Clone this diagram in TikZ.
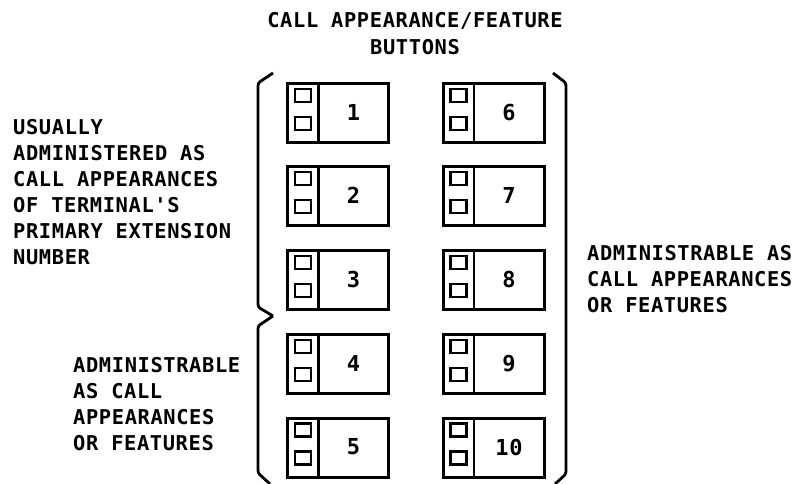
\documentclass[tikz,border=0pt]{standalone}
\usepackage{fontspec}
\newfontfamily\lblfont{DejaVu Sans Mono}[LetterSpace=3]
\begin{document}
\begin{tikzpicture}[x=1pt,y=-1pt,
  lbl/.style={font=\lblfont\bfseries\fontsize{20.4}{26}\selectfont, inner sep=0pt, align=left, anchor=north west},
  num/.style={font=\lblfont\bfseries\fontsize{22}{26}\selectfont, inner sep=0pt},
  btn/.style={draw, rectangle, line width=3pt, minimum width=101pt, minimum height=59pt, inner sep=0pt, outer sep=0pt, anchor=north west},
  divider/.style={line width=2.6pt},
  lamp/.style={line width=2.3pt},
  bracket/.style={line width=2.8pt, rounded corners=2.5pt}]
\useasboundingbox (0,0) rectangle (796,484);

% title
\node[lbl, align=center, anchor=north, font=\lblfont\bfseries\fontsize{20.4}{27}\selectfont] (title) at (415,12) {CALL APPEARANCE/FEATURE\\BUTTONS};

% side texts
\node[lbl] (usual) at (13,119) {USUALLY\\ADMINISTERED AS\\CALL APPEARANCES\\OF TERMINAL'S\\PRIMARY EXTENSION\\NUMBER};
\node[lbl] (admleft) at (73,357) {ADMINISTRABLE\\AS CALL\\APPEARANCES\\OR FEATURES};
\node[lbl] (admright) at (587,245) {ADMINISTRABLE AS\\CALL APPEARANCES\\OR FEATURES};

% buttons
\foreach \n/\x/\y in {1/287.5/83.5, 2/287.5/166.5, 3/287.5/250.5, 4/287.5/334.5, 5/287.5/418,
                      6/443/83.5, 7/443/166.5, 8/443/250.5, 9/443/334.5, 10/443/418} {
  \node[btn] (b\n) at (\x,\y) {};
  \draw[divider] ([xshift=31pt]b\n.north west) -- ([xshift=31pt]b\n.south west);
  \draw[lamp] ([shift={(7.5pt,-5.5pt)}]b\n.north west) rectangle ++(16pt,-13pt);
  \draw[lamp] ([shift={(7.5pt,-33.5pt)}]b\n.north west) rectangle ++(16pt,-13pt);
  \node[num] (n\n) at ([shift={(66pt,-29pt)}]b\n.north west) {\n};
}

% brackets
\draw[bracket] (273,73) -- (258,83) -- (258,307) -- (273,316);
\draw[bracket] (273,316) -- (258,326) -- (258,473) -- (270,484);
\draw[bracket] (553,73) -- (566,83) -- (566,474) -- (555,484);
\end{tikzpicture}
\end{document}
